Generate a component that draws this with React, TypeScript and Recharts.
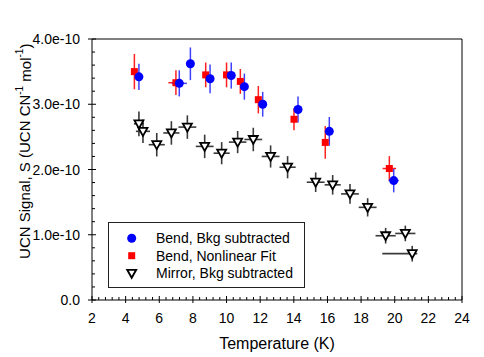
import React from 'react';
import { ScatterChart, Scatter, XAxis, YAxis, ErrorBar, Legend } from 'recharts';

const FONT = '"Liberation Sans", Arial, sans-serif';

// Bend, Bkg subtracted (blue circles)
const bendT = [4.79, 7.19, 7.85, 9.02, 10.28, 11.06, 12.15, 14.25, 16.11, 19.94];
const bendS = [3.42e-10, 3.32e-10, 3.62e-10, 3.39e-10, 3.44e-10, 3.27e-10, 3.0e-10, 2.92e-10, 2.585e-10, 1.83e-10];
const bendSErr = [0.2e-10, 0.2e-10, 0.25e-10, 0.22e-10, 0.2e-10, 0.2e-10, 0.19e-10, 0.2e-10, 0.22e-10, 0.18e-10];
const bendTErr = [0, 0.45, 0, 0, 0, 0, 0, 0, 0, 0.3];

// Bend, Nonlinear Fit (red squares)
const fitT = [4.52, 6.99, 8.76, 10.0, 10.82, 11.89, 14.01, 15.87, 19.68];
const fitS = [3.5e-10, 3.33e-10, 3.45e-10, 3.45e-10, 3.35e-10, 3.07e-10, 2.77e-10, 2.415e-10, 2.015e-10];
const fitSErr = [0.27e-10, 0.19e-10, 0.19e-10, 0.19e-10, 0.19e-10, 0.21e-10, 0.17e-10, 0.25e-10, 0.19e-10];
const fitTErr = [0, 0.45, 0, 0, 0, 0, 0, 0, 0.4];

// Mirror, Bkg subtracted (open down triangles)
const mirT = [4.79, 5.03, 5.85, 6.72, 7.67, 8.7, 9.71, 10.66, 11.59, 12.62, 13.63, 15.3, 16.31, 17.34, 18.39, 19.46, 20.63, 21.04];
const mirS = [2.7e-10, 2.585e-10, 2.38e-10, 2.56e-10, 2.65e-10, 2.354e-10, 2.25e-10, 2.42e-10, 2.46e-10, 2.2e-10, 2.035e-10, 1.805e-10, 1.765e-10, 1.626e-10, 1.42e-10, 0.985e-10, 1.02e-10, 0.71e-10];
const mirSErr = [0.19e-10, 0.18e-10, 0.18e-10, 0.18e-10, 0.18e-10, 0.18e-10, 0.17e-10, 0.17e-10, 0.18e-10, 0.17e-10, 0.17e-10, 0.15e-10, 0.15e-10, 0.15e-10, 0.14e-10, 0.12e-10, 0.12e-10, 0.12e-10];
const mirTErrLow = [0.3, 0.42, 0.48, 0.48, 0.53, 0.53, 0.48, 0.52, 0.53, 0.53, 0.48, 0.53, 0.48, 0.53, 0.53, 0.6, 0.6, 1.78];
const mirTErrHigh = [0.3, 0.42, 0.48, 0.48, 0.53, 0.53, 0.48, 0.52, 0.53, 0.53, 0.48, 0.53, 0.48, 0.53, 0.53, 0.6, 0.6, 0.3];

const seriesNames = ['Bend, Bkg subtracted', 'Bend, Nonlinear Fit', 'Mirror, Bkg subtracted'];

const xTicks = Array.from({ length: 56 }, (_, i) => +(2 + i * 0.4).toFixed(1));
const yTicks = Array.from({ length: 21 }, (_, i) => i * 0.2e-10);

const bendData = bendT.map((t, i) => ({ t, s: bendS[i], sErr: bendSErr[i], tErr: bendTErr[i] }));
const fitData = fitT.map((t, i) => ({ t, s: fitS[i], sErr: fitSErr[i], tErr: fitTErr[i] }));
const mirData = mirT.map((t, i) => ({ t, s: mirS[i], sErr: mirSErr[i], tErr: [mirTErrLow[i], mirTErrHigh[i]] }));

const isMajorX = (v: number) => Math.abs(v - Math.round(v)) < 1e-6 && Math.round(v) % 2 === 0;
const yIndex = (v: number) => Math.round(v / 0.2e-10);

const BottomTick = (props: any) => {
  const { x, y, payload } = props;
  const v = payload.value;
  const major = isMajorX(v);
  return (
    <g>
      <line x1={x} x2={x} y1={y - (major ? 4 : 3)} y2={y + (major ? 3 : 0)} stroke="#000" strokeWidth={1} />
      {major && (
        <text x={x} y={y + 23} textAnchor="middle" fontFamily={FONT} fontSize={14} fill="#000">
          {Math.round(v)}
        </text>
      )}
    </g>
  );
};

const TopTick = (props: any) => {
  const { x, y, payload } = props;
  const major = isMajorX(payload.value);
  return <line x1={x} x2={x} y1={y} y2={y + (major ? 4 : 3)} stroke="#000" strokeWidth={1} />;
};

const LeftTick = (props: any) => {
  const { x, y, payload } = props;
  const k = yIndex(payload.value);
  const major = k % 5 === 0;
  const label = k === 0 ? '0.0' : (k / 5).toFixed(1) + 'e-10';
  return (
    <g>
      <line x1={x - (major ? 4 : 0)} x2={x + (major ? 4 : 3)} y1={y} y2={y} stroke="#000" strokeWidth={1} />
      {major && (
        <text x={x - 12} y={y + 5} textAnchor="end" fontFamily={FONT} fontSize={14} fill="#000">
          {label}
        </text>
      )}
    </g>
  );
};

const RightTick = (props: any) => {
  const { x, y, payload } = props;
  const major = yIndex(payload.value) % 5 === 0;
  return <line x1={x - (major ? 4 : 3)} x2={x} y1={y} y2={y} stroke="#000" strokeWidth={1} />;
};

const YTitle = (props: any) => {
  const vb = props.viewBox || { x: 0, y: 39, width: 92, height: 261 };
  const cx = vb.x + 25;
  const cy = vb.y + vb.height * 0.43;
  return (
    <text
      x={cx}
      y={cy}
      transform={`rotate(-90, ${cx}, ${cy})`}
      textAnchor="middle"
      dominantBaseline="central"
      fontFamily={FONT}
      fontSize={15}
      fill="#000"
    >
      UCN Signal, S (UCN CN
      <tspan dy={-6} fontSize={10}>-1</tspan>
      <tspan dy={6}> mol</tspan>
      <tspan dy={-6} fontSize={10}>-1</tspan>
      <tspan dy={6}>)</tspan>
    </text>
  );
};

const XTitle = (props: any) => {
  const vb = props.viewBox || { x: 92, y: 300, width: 370, height: 57 };
  return (
    <text x={vb.x + vb.width / 2} y={vb.y + 49} textAnchor="middle" fontFamily={FONT} fontSize={16} fill="#000">
      Temperature (K)
    </text>
  );
};

const Circle = (p: any) => <circle cx={p.cx} cy={p.cy} r={4.5} fill="#0000ff" />;
const Square = (p: any) => <rect x={p.cx - 3.5} y={p.cy - 3.5} width={7} height={7} fill="#ff0000" />;
const TriDown = (p: any) => (
  <polygon
    points={`${p.cx - 4.5},${p.cy - 3.5} ${p.cx + 4.5},${p.cy - 3.5} ${p.cx},${p.cy + 4.5}`}
    fill="#fff"
    stroke="#000"
    strokeWidth={1.8}
  />
);

const LegendBox = () => {
  const rows = [16.3, 33.7, 51.3];
  return (
    <svg width={197} height={66} style={{ display: 'block' }}>
      <rect x={0.5} y={0.5} width={196} height={65} fill="#fff" stroke="#222" strokeWidth={1} />
      <circle cx={23.7} cy={rows[0]} r={4.5} fill="#0000ff" />
      <rect x={20.2} y={rows[1] - 3.5} width={7} height={7} fill="#ff0000" />
      <polygon
        points={`${19.2},${rows[2] - 3.5} ${28.2},${rows[2] - 3.5} ${23.7},${rows[2] + 4.5}`}
        fill="#fff"
        stroke="#000"
        strokeWidth={1.8}
      />
      {seriesNames.map((n, i) => (
        <text key={n} x={48} y={rows[i] + 5} fontFamily={FONT} fontSize={14} fill="#000">
          {n}
        </text>
      ))}
    </svg>
  );
};

export default function App() {
  return (
    <div style={{ position: 'absolute', left: 0, top: 0, width: 484, height: 357, background: '#fff' }}>
      <ScatterChart width={484} height={357} margin={{ top: 0, right: 0, bottom: 0, left: 0 }}>
        <XAxis
          xAxisId="b"
          dataKey="t"
          type="number"
          domain={[2, 24]}
          ticks={xTicks}
          interval={0}
          height={57}
          orientation="bottom"
          stroke="#000"
          tickLine={false}
          tickSize={0}
          tickMargin={0}
          tick={<BottomTick />}
          label={<XTitle />}
        />
        <XAxis
          xAxisId="top"
          dataKey="t"
          type="number"
          domain={[2, 24]}
          ticks={xTicks}
          interval={0}
          height={39}
          orientation="top"
          stroke="#000"
          tickLine={false}
          tickSize={0}
          tickMargin={0}
          tick={<TopTick />}
        />
        <YAxis
          yAxisId="l"
          dataKey="s"
          type="number"
          domain={[0, 4e-10]}
          ticks={yTicks}
          interval={0}
          width={92}
          orientation="left"
          stroke="#000"
          tickLine={false}
          tickSize={0}
          tickMargin={0}
          tick={<LeftTick />}
          label={<YTitle />}
        />
        <YAxis
          yAxisId="r"
          dataKey="s"
          type="number"
          domain={[0, 4e-10]}
          ticks={yTicks}
          interval={0}
          width={22}
          orientation="right"
          stroke="#000"
          tickLine={false}
          tickSize={0}
          tickMargin={0}
          tick={<RightTick />}
        />
        <Legend
          layout="vertical"
          align="center"
          verticalAlign="middle"
          wrapperStyle={{ left: 108, top: 222, width: 197, height: 66 }}
          content={() => <LegendBox />}
        />
        <Scatter name={seriesNames[2]} data={mirData} xAxisId="b" yAxisId="l" shape={<TriDown />} isAnimationActive={false}>
          <ErrorBar dataKey="sErr" direction="y" width={0} stroke="#3a3a3a" strokeWidth={1.6} />
          <ErrorBar dataKey="tErr" direction="x" width={0} stroke="#3a3a3a" strokeWidth={1.6} />
        </Scatter>
        <Scatter name={seriesNames[1]} data={fitData} xAxisId="b" yAxisId="l" shape={<Square />} isAnimationActive={false}>
          <ErrorBar dataKey="sErr" direction="y" width={0} stroke="#ff2020" strokeWidth={1.5} />
          <ErrorBar dataKey="tErr" direction="x" width={0} stroke="#ff2020" strokeWidth={1.5} />
        </Scatter>
        <Scatter name={seriesNames[0]} data={bendData} xAxisId="b" yAxisId="l" shape={<Circle />} isAnimationActive={false}>
          <ErrorBar dataKey="sErr" direction="y" width={0} stroke="#4040ff" strokeWidth={1.5} />
          <ErrorBar dataKey="tErr" direction="x" width={0} stroke="#4040ff" strokeWidth={1.5} />
        </Scatter>
      </ScatterChart>
    </div>
  );
}
